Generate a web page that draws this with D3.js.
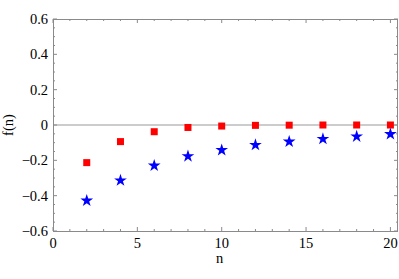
<!DOCTYPE html>
<html>
<head>
<meta charset="utf-8">
<script src="https://cdn.jsdelivr.net/npm/d3@7"></script>
<style>
body { margin: 0; background: #fff; }
svg text { font-family: 'Liberation Serif', 'Times New Roman', Times, serif; }
</style>
</head>
<body>
<div id="chart"></div>
<script>
const nValues = [2, 4, 6, 8, 10, 12, 14, 16, 18, 20];
const squareValues = [-0.213, -0.094, -0.038, -0.014, -0.006, -0.002, -0.001, 0, 0, 0];
const starValues = [-0.428, -0.314, -0.23, -0.177, -0.142, -0.113, -0.094, -0.079, -0.065, -0.052];
const xTicks = [0, 5, 10, 15, 20];
const yTicks = [-0.6, -0.4, -0.2, 0, 0.2, 0.4, 0.6];

const width = 399, height = 279;
const margin = { top: 19, right: 1, bottom: 48, left: 53 };
const fontSize = 14.5;

const svg = d3.select('#chart').append('svg')
	.attr('width', width).attr('height', height);

const x = d3.scaleLinear().domain([0, 20.45]).range([margin.left, width - margin.right]);
const y = d3.scaleLinear().domain([-0.6, 0.6]).range([height - margin.bottom, margin.top]);

const frameColor = '#8a8a8a';
const fmt = (d) => d === 0 ? '0' : (d < 0 ? '\u2212' : '') + Math.abs(d).toFixed(1);

// zero line
svg.append('line')
	.attr('x1', x.range()[0]).attr('x2', x.range()[1])
	.attr('y1', y(0)).attr('y2', y(0))
	.attr('stroke', '#999').attr('stroke-width', 1);

// frame ticks, inward on all four sides
const xMinor = d3.range(0, 21, 1).filter((d) => d % 5 !== 0);
const yMinor = d3.range(-0.6, 0.6001, 0.05).filter((d) => Math.abs(Math.round(d * 10) / 10 - d) > 1e-6 || Math.round(d * 10) % 2 !== 0);

const ticks = svg.append('g').attr('stroke', frameColor).attr('stroke-width', 1);
function xTickLines(vals, len) {
	vals.forEach((v) => {
		ticks.append('line').attr('x1', x(v)).attr('x2', x(v))
			.attr('y1', y.range()[0]).attr('y2', y.range()[0] - len);
		ticks.append('line').attr('x1', x(v)).attr('x2', x(v))
			.attr('y1', y.range()[1]).attr('y2', y.range()[1] + len);
	});
}
function yTickLines(vals, len) {
	vals.forEach((v) => {
		ticks.append('line').attr('y1', y(v)).attr('y2', y(v))
			.attr('x1', x.range()[0]).attr('x2', x.range()[0] + len);
		ticks.append('line').attr('y1', y(v)).attr('y2', y(v))
			.attr('x1', x.range()[1]).attr('x2', x.range()[1] - len);
	});
}
xTickLines(xTicks, 4);
xTickLines(xMinor, 2);
yTickLines(yTicks, 4);
yTickLines(yMinor, 2);

svg.append('rect')
	.attr('x', x.range()[0] + 0.5).attr('y', y.range()[1] + 0.5)
	.attr('width', x.range()[1] - x.range()[0] - 1)
	.attr('height', y.range()[0] - y.range()[1])
	.attr('fill', 'none').attr('stroke', frameColor);

// tick labels
svg.append('g').selectAll('text').data(xTicks).join('text')
	.attr('x', (d) => x(d)).attr('y', y.range()[0] + 17)
	.attr('text-anchor', 'middle').attr('font-size', fontSize)
	.text((d) => d);
svg.append('g').selectAll('text').data(yTicks).join('text')
	.attr('x', x.range()[0] - 5).attr('y', (d) => y(d) + 5)
	.attr('text-anchor', 'end').attr('font-size', fontSize)
	.text(fmt);

// axis titles
svg.append('text')
	.attr('x', (x.range()[0] + x.range()[1]) / 2 - 6).attr('y', height - 16)
	.attr('text-anchor', 'middle').attr('font-size', fontSize).text('n');
svg.append('text')
	.attr('transform', `translate(13, ${y(0)}) rotate(-90)`)
	.attr('text-anchor', 'middle').attr('font-size', fontSize).text('f(n)');

// marks
const starPts = nValues.map((n, i) => ({ n, v: starValues[i] }));
const sqPts = nValues.map((n, i) => ({ n, v: squareValues[i] }));

svg.append('g').selectAll('path').data(starPts).join('path')
	.attr('d', d3.symbol(d3.symbolStar, 50)())
	.attr('transform', (d) => `translate(${x(d.n)}, ${y(d.v)})`)
	.attr('fill', '#0000ff');

svg.append('g').selectAll('rect').data(sqPts).join('rect')
	.attr('x', (d) => x(d.n) - 3.5).attr('y', (d) => y(d.v) - 3.5)
	.attr('width', 7).attr('height', 7)
	.attr('fill', '#ff0000');
</script>
</body>
</html>
